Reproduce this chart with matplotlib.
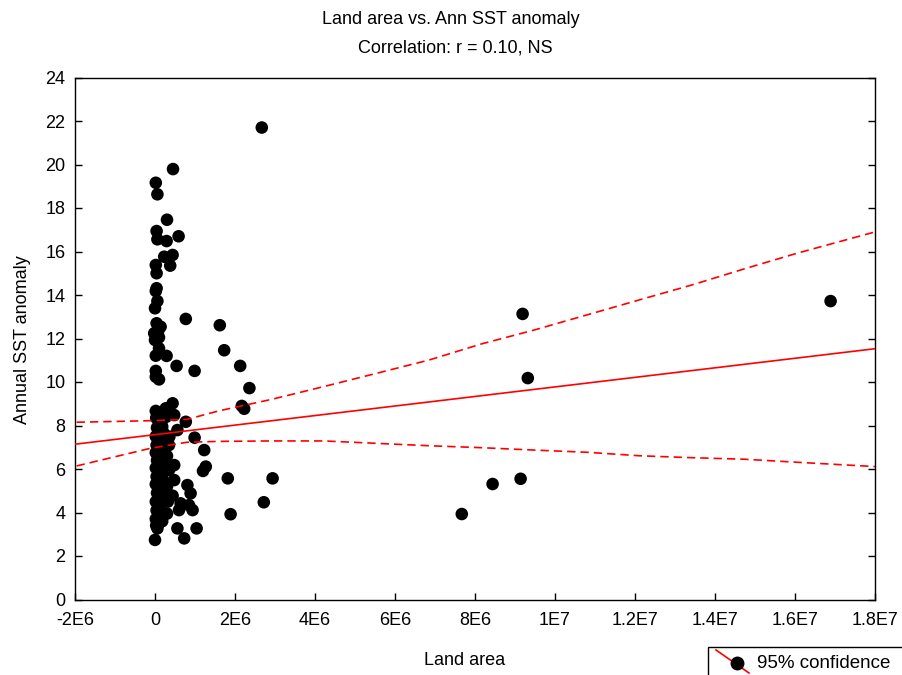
import matplotlib
matplotlib.use("Agg")
import matplotlib.pyplot as plt
from matplotlib.patches import Rectangle
from matplotlib.lines import Line2D
import numpy as np

plt.rcParams['font.family'] = ['Liberation Sans', 'DejaVu Sans']

# Land area (units of 1E6) and annual SST anomaly
land_area_m = [2.67, 16.89, 9.19, 9.32, 7.67, 8.44, 9.14,
               1.62, 1.73, 2.13, 2.36, 2.17, 2.23, 1.23, 1.27, 1.20, 1.82, 2.94, 2.72, 1.89,
               0.45, 0.02, 0.06, 0.30, 0.04, 0.06, 0.29, 0.59, 0.44, 0.23, 0.38, 0.02, 0.04,
               0.04, 0.02, 0.06, 0.00, 0.77, 0.04, 0.14, -0.02, 0.00, 0.10, 0.29, 0.02, 0.54,
               0.99, 0.02, 0.10, 0.02,
               0.44, 0.27, 0.02, 0.48, 0.77, 0.56, 0.99, 0.36, 0.48, 0.35, 0.48, 0.81, 0.89,
               0.44, 0.64, 0.85, 0.60, 0.94, 0.56, 1.04, 0.73, 0.00, 0.06,
               0.03, 0.15, 0.05, 0.20, 0.02, 0.12, 0.04, 0.22, 0.02, 0.14, 0.05, 0.25, 0.02,
               0.12, 0.04, 0.20, 0.02, 0.14, 0.05, 0.22, 0.02, 0.12, 0.04, 0.18, 0.02, 0.10,
               0.03, 0.30, 0.35, 0.30, 0.32, 0.28,
               0.18, 0.26, 0.16, 0.24, 0.30, 0.18, 0.08, 0.10, 0.06, 0.15]
sst_anomaly = [21.70, 13.72, 13.13, 10.18, 3.93, 5.31, 5.55,
               12.61, 11.46, 10.74, 9.72, 8.90, 8.77, 6.87, 6.11, 5.91, 5.57, 5.57, 4.47, 3.92,
               19.79, 19.16, 18.63, 17.46, 16.94, 16.56, 16.48, 16.70, 15.84, 15.76, 15.35, 15.38, 15.00,
               14.31, 14.18, 13.72, 13.39, 12.90, 12.70, 12.54, 12.24, 11.93, 11.55, 11.20, 11.21, 10.74,
               10.51, 10.51, 10.12, 10.24,
               9.02, 8.79, 8.67, 8.48, 8.17, 7.79, 7.44, 7.49, 6.18, 5.95, 5.49, 5.26, 4.88,
               4.77, 4.42, 4.34, 4.11, 4.11, 3.27, 3.27, 2.81, 2.74, 3.27,
               8.35, 8.10, 7.90, 7.70, 7.50, 7.30, 7.10, 6.95, 6.75, 6.55, 6.40, 6.25, 6.05,
               5.85, 5.65, 5.50, 5.30, 5.10, 4.90, 4.70, 4.50, 4.30, 4.10, 3.90, 3.70, 3.50,
               3.40, 6.60, 7.10, 5.20, 4.50, 8.40,
               7.95, 6.00, 5.75, 4.95, 3.95, 3.60, 12.35, 12.05, 8.55, 4.60]

# Regression line endpoints
fit_x_m = [-2.0, 18.0]
fit_y = [7.14, 11.53]

# 95% confidence band
band_x_m = [-1.96, -0.12, 0.80, 1.59, 2.91, 4.22, 5.54, 6.85, 8.16, 9.48, 10.79, 12.10, 13.42, 14.73, 16.05, 18.02]
band_upper = [8.15, 8.22, 8.28, 8.67, 9.20, 9.79, 10.40, 11.01, 11.75, 12.39, 13.08, 13.77, 14.46, 15.20, 15.92, 16.91]
band_lower = [6.14, 6.95, 7.23, 7.27, 7.29, 7.29, 7.18, 7.07, 6.98, 6.87, 6.77, 6.61, 6.52, 6.45, 6.31, 6.11]

x_ticks = [-2e6, 0, 2e6, 4e6, 6e6, 8e6, 1e7, 1.2e7, 1.4e7, 1.6e7, 1.8e7]
x_tick_labels = ['-2E6', '0', '2E6', '4E6', '6E6', '8E6', '1E7', '1.2E7', '1.4E7', '1.6E7', '1.8E7']
y_ticks = list(range(0, 25, 2))

W, H = 902, 675
FS = 13
fig = plt.figure(figsize=(W / 100, H / 100), dpi=100)
ax = fig.add_axes([75 / W, 1 - 599.5 / H, 800 / W, 522 / H])

x = np.array(land_area_m) * 1e6
ax.scatter(x, sst_anomaly, s=82, color='black', edgecolors='none', zorder=3)

ax.plot(np.array(fit_x_m) * 1e6, fit_y, color='red', lw=1.2, zorder=4)
ax.plot(np.array(band_x_m) * 1e6, band_upper, color='red', lw=1.2, ls=(0, (5, 3)), zorder=4)
ax.plot(np.array(band_x_m) * 1e6, band_lower, color='red', lw=1.2, ls=(0, (5, 3)), zorder=4)

ax.set_xlim(-2e6, 1.8e7)
ax.set_ylim(0, 24)
ax.set_xticks(x_ticks)
ax.set_xticklabels(x_tick_labels)
ax.set_yticks(y_ticks)
ax.tick_params(direction='in', length=5, width=1, labelsize=FS, colors='black',
               right=True, top=False)
ax.tick_params(axis='x', pad=9)
ax.tick_params(axis='y', pad=7)
for sp in ax.spines.values():
    sp.set_linewidth(1)
    sp.set_color('black')

ax.set_xlabel('Land area', fontsize=FS)
ax.xaxis.set_label_coords(0.4875, -0.116)
ax.xaxis.label.set_va('center')
ax.set_ylabel('Annual SST anomaly', fontsize=FS)
ax.yaxis.set_label_coords(-0.066, 0.497)
ax.yaxis.label.set_va('center')

fig.text(451 / W, 1 - 19 / H, 'Land area vs. Ann SST anomaly', ha='center', va='center', fontsize=FS)
fig.text(455 / W, 1 - 48 / H, 'Correlation: r = 0.10, NS', ha='center', va='center', fontsize=FS)

# legend box (partially outside the figure, as in the reference)
fig.patches.append(Rectangle((708 / W, -0.05), 0.3, 0.05 + (675 - 647) / H, transform=fig.transFigure,
                             facecolor='white', edgecolor='black', lw=1))
fig.lines.append(Line2D([716 / W, 749 / W], [1 - 650 / H, 1 - 673 / H], transform=fig.transFigure,
                        color='red', lw=1.2))
fig.lines.append(Line2D([737 / W], [1 - 663 / H], transform=fig.transFigure, marker='o',
                        markersize=9, color='black', ls='none'))
fig.text(757 / W, 1 - 663 / H, '95% confidence', ha='left', va='center', fontsize=FS + 0.5)

fig.savefig('out.png', dpi=100)
